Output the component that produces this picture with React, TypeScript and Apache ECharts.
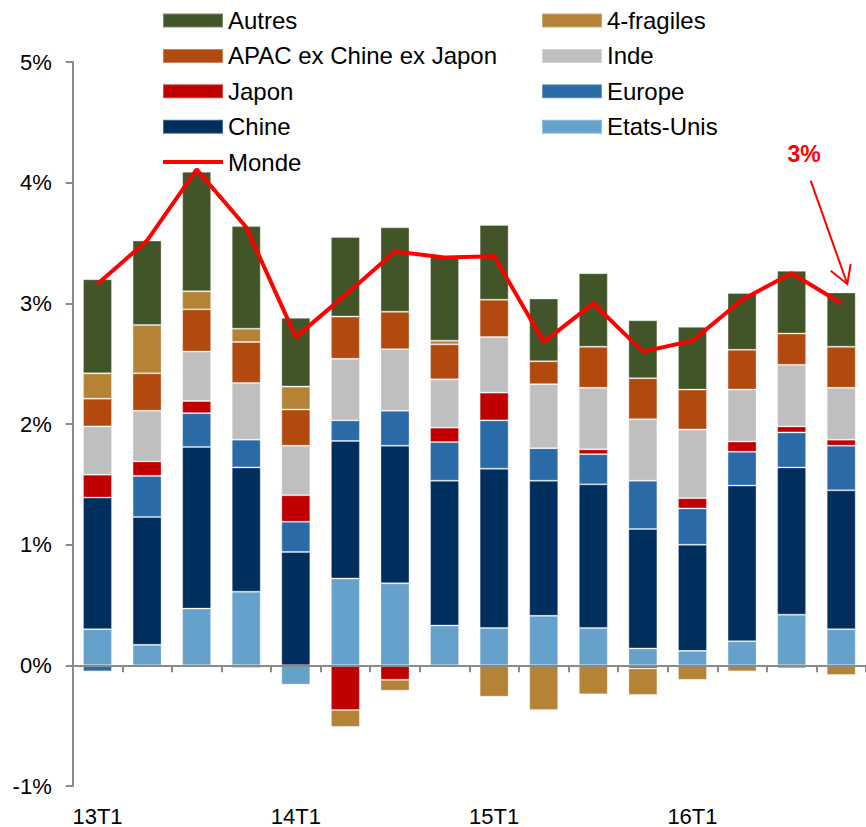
import React, { useEffect, useRef } from 'react';
import * as echarts from 'echarts';

const categories = ['13T1','13T2','13T3','13T4','14T1','14T2','14T3','14T4','15T1','15T2','15T3','15T4','16T1','16T2','16T3','16T4'];

const etatsUnis = [0.30, 0.17, 0.47, 0.61, -0.16, 0.72, 0.68, 0.33, 0.31, 0.41, 0.31, 0.14, 0.12, 0.20, 0.42, 0.30];
const chine = [1.09, 1.06, 1.34, 1.03, 0.94, 1.14, 1.14, 1.20, 1.32, 1.12, 1.19, 0.99, 0.88, 1.29, 1.22, 1.15];
const europe = [-0.05, 0.34, 0.28, 0.23, 0.25, 0.17, 0.29, 0.32, 0.40, 0.27, 0.25, 0.40, 0.30, 0.28, 0.29, 0.37];
const japon = [0.19, 0.12, 0.10, -0.02, 0.22, -0.37, -0.12, 0.12, 0.23, 0, 0.04, -0.025, 0.085, 0.085, 0.05, 0.05];
const inde = [0.40, 0.42, 0.41, 0.47, 0.41, 0.51, 0.51, 0.40, 0.46, 0.53, 0.51, 0.51, 0.57, 0.43, 0.51, 0.43];
const apac = [0.23, 0.31, 0.35, 0.34, 0.30, 0.35, 0.31, 0.29, 0.31, 0.19, 0.34, 0.34, 0.33, 0.33, 0.26, 0.34];
const fragiles = [0.21, 0.40, 0.15, 0.11, 0.19, -0.14, -0.09, 0.03, -0.26, -0.37, -0.24, -0.22, -0.12, -0.05, -0.025, -0.08];
const autres = [0.78, 0.70, 0.99, 0.85, 0.57, 0.66, 0.70, 0.70, 0.62, 0.52, 0.61, 0.48, 0.52, 0.47, 0.52, 0.45];
const monde = [3.16, 3.52, 4.11, 3.63, 2.72, 3.07, 3.43, 3.38, 3.39, 2.68, 3.00, 2.60, 2.69, 3.03, 3.25, 3.00];

const legendLeft = ['Autres', 'APAC ex Chine ex Japon', 'Japon', 'Chine'];
const legendRight = ['4-fragiles', 'Inde', 'Europe', 'Etats-Unis'];

const yTicks = { min: -1, max: 5, interval: 1 };
const FONT = '"Liberation Sans", Arial, sans-serif';
const AXIS_GREY = '#8a8a8a';

const barSeries = [
  { name: 'Etats-Unis', data: etatsUnis, color: '#65A1CA' },
  { name: 'Chine', data: chine, color: '#002F5E' },
  { name: 'Europe', data: europe, color: '#2A6AA6' },
  { name: 'Japon', data: japon, color: '#C00000' },
  { name: 'Inde', data: inde, color: '#BFBFBF' },
  { name: 'APAC ex Chine ex Japon', data: apac, color: '#B24A10' },
  { name: '4-fragiles', data: fragiles, color: '#B58336' },
  { name: 'Autres', data: autres, color: '#425529' },
];

export default function App() {
  const ref = useRef<HTMLDivElement>(null);
  useEffect(() => {
    const chart = echarts.init(ref.current!, null, { renderer: 'svg' });
    const legendText = { fontSize: 24, color: '#000', fontFamily: FONT, lineHeight: 26 };
    const legendCommon = {
      orient: 'vertical', top: 2.5, itemWidth: 60, itemHeight: 14, itemGap: 9.4,
      textStyle: legendText, selectedMode: false,
    };
    chart.setOption({
      animation: false,
      textStyle: { fontFamily: FONT },
      grid: { left: 72.7, right: -6.7, top: 62, bottom: 40.3, containLabel: false },
      legend: [
        {
          ...legendCommon, left: 156,
          data: [
            ...legendLeft.map((n) => ({ name: n, icon: 'rect' })),
            { name: 'Monde', lineStyle: { width: 4, color: '#FF0000' }, itemStyle: { color: 'rgba(0,0,0,0)', opacity: 0, borderWidth: 0 } },
          ],
        },
        {
          ...legendCommon, left: 536,
          data: legendRight.map((n) => ({ name: n, icon: 'rect' })),
        },
      ],
      xAxis: [
        {
          type: 'category', data: categories, position: 'bottom', boundaryGap: true,
          axisLine: { show: true, onZero: true, lineStyle: { color: AXIS_GREY, width: 2 } },
          axisTick: { show: true, interval: 0, length: 7, lineStyle: { color: AXIS_GREY, width: 2 } },
          axisLabel: { show: false },
          splitLine: { show: false },
          z: 5,
        },
        {
          type: 'category', data: categories, position: 'bottom', boundaryGap: true,
          axisLine: { show: false, onZero: false },
          axisTick: { show: false },
          axisLabel: { show: true, interval: 3, fontSize: 22, color: '#000', margin: 19, fontFamily: FONT },
          splitLine: { show: false },
        },
      ],
      yAxis: {
        type: 'value', min: yTicks.min, max: yTicks.max, interval: yTicks.interval,
        axisLine: { show: true, lineStyle: { color: AXIS_GREY, width: 2 } },
        axisTick: { show: true, length: 7, lineStyle: { color: AXIS_GREY, width: 2 } },
        axisLabel: { formatter: '{value}%', fontSize: 22, color: '#000', margin: 21, fontFamily: FONT },
        splitLine: { show: false },
      },
      series: [
        ...barSeries.map((s) => ({
          name: s.name, type: 'bar', stack: 'total', data: s.data, barWidth: 29,
          itemStyle: { color: s.color, borderColor: 'rgba(255,255,255,0.3)', borderWidth: 1 },
          emphasis: { disabled: true },
        })),
        {
          name: 'Monde', type: 'line', data: monde, symbol: 'none', z: 10,
          lineStyle: { color: '#FF0000', width: 4 }, itemStyle: { color: '#FF0000' },
          emphasis: { disabled: true },
        },
      ],
      graphic: [
        { type: 'text', x: 804, y: 153.5, style: { text: '3%', fill: '#FF0000', font: `bold 23px ${FONT}`, align: 'center', verticalAlign: 'middle' }, z: 20 },
        { type: 'line', shape: { x1: 810.7, y1: 180.7, x2: 847.3, y2: 284 }, style: { stroke: '#FF0000', lineWidth: 2 }, z: 20 },
        { type: 'polyline', shape: { points: [[830.7, 270.7], [847.3, 284], [850.7, 264]] }, style: { stroke: '#FF0000', lineWidth: 2, fill: null }, z: 20 },
      ],
    });
    return () => chart.dispose();
  }, []);
  return <div ref={ref} style={{ position: 'absolute', left: 0, top: 0, width: 866, height: 827 }} />;
}
